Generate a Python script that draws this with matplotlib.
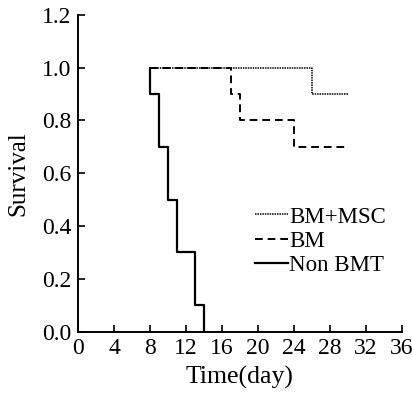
import matplotlib.pyplot as plt

plt.rcParams['font.family'] = ['Liberation Serif', 'DejaVu Serif']

# step-curve data (time in days, survival fraction)
bm_msc_t = [8, 26, 26, 30]
bm_msc_s = [1.0, 1.0, 0.9, 0.9]

bm_t = [8, 17, 17, 18, 18, 24, 24, 30]
bm_s = [1.0, 1.0, 0.9, 0.9, 0.8, 0.8, 0.7, 0.7]

non_t = [8, 8, 9, 9, 10, 10, 11, 11, 13, 13, 14, 14]
non_s = [1.0, 0.9, 0.9, 0.7, 0.7, 0.5, 0.5, 0.3, 0.3, 0.1, 0.1, 0.0]

x_ticks = [0, 4, 8, 12, 16, 20, 24, 28, 32, 36]
y_ticks = [0.0, 0.2, 0.4, 0.6, 0.8, 1.0, 1.2]

fig = plt.figure(figsize=(4.12, 3.94), dpi=100)
ax = fig.add_axes([0.190, 0.1586, 0.785, 0.8034])

ax.plot(bm_msc_t, bm_msc_s, color='black', linestyle=(0, (1, 0.6)), lw=1.1,
        label='BM+MSC')
ax.plot(bm_t, bm_s, color='black', linestyle=(0, (4, 2.5)), lw=1.4, label='BM')
ax.plot(non_t, non_s, color='black', linestyle='-', lw=1.6, label='Non BMT')

ax.set_xlim(0, 36)
ax.set_ylim(0, 1.2)
ax.set_xticks(x_ticks)
ax.set_yticks(y_ticks)
ax.set_yticklabels([f'{v:.1f}' for v in y_ticks])
ax.tick_params(direction='in', length=5, width=1.2, labelsize=17, pad=5)
for s in ['top', 'right']:
    ax.spines[s].set_visible(False)
for s in ['left', 'bottom']:
    ax.spines[s].set_linewidth(1.4)

ax.set_xlabel('Time(day)', fontsize=18.5, labelpad=5)
ax.set_ylabel('Survival', fontsize=18, labelpad=9)

ax.legend(loc='upper left', bbox_to_anchor=(0.546, 0.395), frameon=False,
          fontsize=16.5, handlelength=1.45, handletextpad=0.05,
          labelspacing=0.14, borderaxespad=0, borderpad=0)

fig.savefig('out.png', dpi=100)
